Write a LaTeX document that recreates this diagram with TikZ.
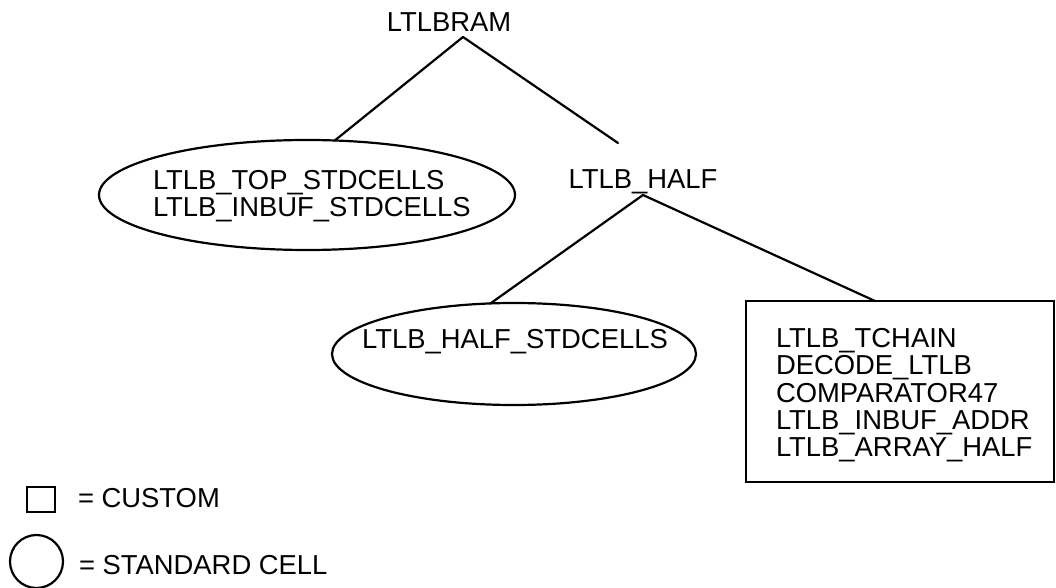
\documentclass[tikz,border=0pt]{standalone}
\usepackage{fontspec}
\setmainfont{Liberation Sans}
\usetikzlibrary{shapes.geometric}

\begin{document}
\begin{tikzpicture}[x=1pt, y=-1pt,
  every node/.style={inner sep=0pt, outer sep=0pt},
  lbl/.style={font=\fontsize{27.4}{27.2}\selectfont},
  stdcell/.style={draw, ellipse, line width=2.2pt},
  custom/.style={draw, rectangle, line width=2.2pt},
  branch/.style={line width=2.2pt, line cap=round, line join=round}]
\useasboundingbox (0,0) rectangle (1056,588);

% top level
\node[lbl, anchor=base] (ram) at (449,32) {LTLBRAM};
\coordinate (ramtip) at ([xshift=14pt, yshift=-5pt]ram.base);

% standard-cell block of the top level
\node[stdcell, minimum width=416pt, minimum height=110pt] (topcells) at (307,195) {};
\node[lbl, anchor=north west, align=left] (toptext) at (153,170)
  {LTLB\_TOP\_STDCELLS\\LTLB\_INBUF\_STDCELLS};

% half
\node[lbl, anchor=base] (half) at (643,189) {LTLB\_HALF};
\coordinate (halfin) at ([xshift=-25pt, yshift=46pt]half.base);
\coordinate (halftip) at ([yshift=-6pt]half.base);

% standard-cell block of the half
\node[stdcell, minimum width=364pt, minimum height=102pt] (halfcells) at (514,354) {};
\node[lbl, anchor=base] (halftext) at (515,348) {LTLB\_HALF\_STDCELLS};

% custom blocks of the half
\node[custom, anchor=north west, minimum width=308pt, minimum height=181pt] (cust) at (746,301) {};
\node[lbl, anchor=north west, align=left] (custtext) at (776,328.5)
  {LTLB\_TCHAIN\\DECODE\_LTLB\\COMPARATOR47\\LTLB\_INBUF\_ADDR\\LTLB\_ARRAY\_HALF};

% hierarchy branches
\draw[branch] (topcells.63) -- (ramtip) -- (halfin);
\draw[branch] (halfcells.115) -- (halftip) -- ([xshift=129pt]cust.north west);

% legend
\node[custom, minimum width=28pt, minimum height=25pt] (keybox) at (41,499.5) {};
\node[lbl, anchor=base west] (keyboxtext) at (78,507) {= CUSTOM};
\node[draw, circle, line width=2.2pt, minimum size=53pt] (keycirc) at (36.5,561.5) {};
\node[lbl, anchor=base west] (keycirctext) at (79,574) {= STANDARD CELL};
\end{tikzpicture}
\end{document}
